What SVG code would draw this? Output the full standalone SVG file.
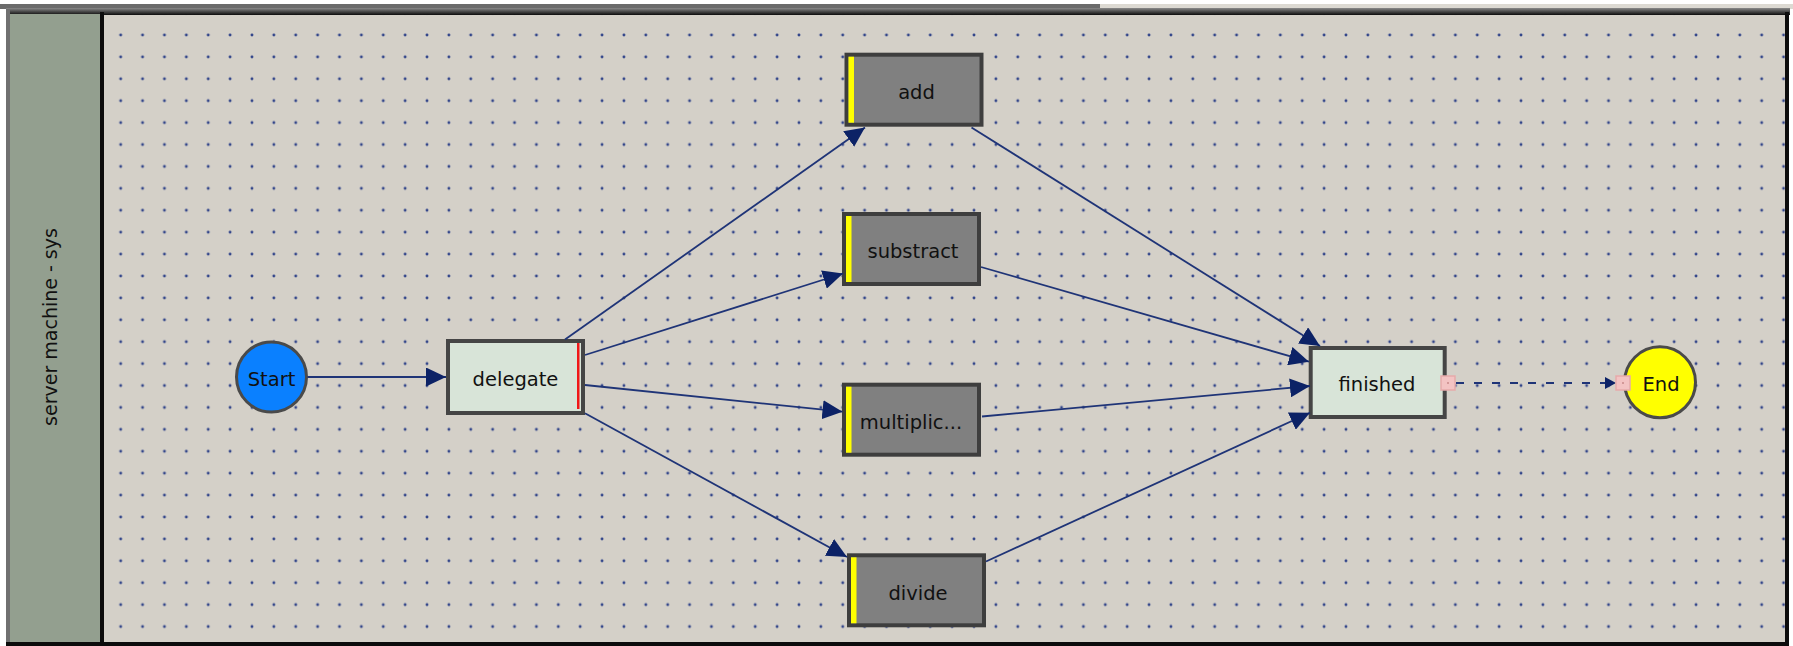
<svg xmlns="http://www.w3.org/2000/svg" width="1793" height="646" viewBox="0 0 1793 646">
<defs>
<style>
.lbl{font-family:"DejaVu Sans","Noto Sans",sans-serif;font-size:19.5px;fill:#111;text-anchor:middle}
.task{fill:#808080;stroke:#3e3e3e;stroke-width:4}
.act{fill:#d8e4d8;stroke:#454545;stroke-width:4}
.bar{fill:#ffff00}
.conn{stroke:#1f3477;stroke-width:1.8;fill:none}
.port{fill:#f3c3c3;stroke:#e6aaaa;stroke-width:1.5}
</style>
<pattern id="grid" patternUnits="userSpaceOnUse" x="109.76" y="24.05" width="21.88" height="21.91">
<circle cx="10.94" cy="10.955" r="1.45" fill="#32458a"/>
</pattern>
<linearGradient id="band" x1="0" y1="0" x2="0" y2="1">
<stop offset="0" stop-color="#8a8a8a"/>
<stop offset="0.5" stop-color="#4a4a4a"/>
<stop offset="1" stop-color="#0c0c0c"/>
</linearGradient>
<marker id="arr" markerUnits="userSpaceOnUse" markerWidth="20" markerHeight="19" refX="20" refY="9.5" orient="auto">
<path d="M0,0 L20,9.5 L0,19 Z" fill="#0c2266"/>
</marker>
<marker id="arrs" markerUnits="userSpaceOnUse" markerWidth="11" markerHeight="12" refX="11" refY="6" orient="auto">
<path d="M0,0 L11,6 L0,12 Z" fill="#0c2266"/>
</marker>
</defs>
<rect x="0" y="0" width="1793" height="646" fill="#ffffff"/>
<g id="frame">
<rect x="0" y="4" width="1100" height="5" fill="#6b6b6b"/>
<rect x="1100" y="4" width="693" height="5" fill="#dcd9d2"/>
<rect x="6" y="8" width="1784" height="7" fill="url(#band)"/>
<rect x="6" y="9" width="4" height="637" fill="#707070"/>
<rect x="10" y="14" width="90" height="628" fill="#939f8f"/>
<rect x="100" y="12" width="4" height="632" fill="#0c0c0c"/>
<rect x="104" y="15" width="1682" height="627" fill="#d4d0c8"/>
<rect x="104" y="15" width="1682" height="627" fill="url(#grid)"/>
<rect x="1785" y="12" width="4" height="634" fill="#0c0c0c"/>
<rect x="6" y="642" width="1783" height="4" fill="#0c0c0c"/>
<text class="lbl" style="font-size:19px" transform="translate(57,327) rotate(-90)" x="0" y="0">server machine - sys</text>
</g>
<g id="node-start">
<circle cx="271.5" cy="377" r="35" fill="#0a80ff" stroke="#4a4a4a" stroke-width="3"/>
<text class="lbl" x="271.5" y="386">Start</text>
</g>
<g id="node-delegate">
<rect class="act" x="448" y="341" width="135" height="72"/>
<rect x="577" y="343" width="2.5" height="66" fill="#f01818"/>
<text class="lbl" x="515.5" y="386">delegate</text>
</g>
<g id="node-add">
<rect class="task" x="846.5" y="54.7" width="135" height="70"/>
<rect class="bar" x="848.5" y="56.7" width="5.5" height="66"/>
<text class="lbl" x="916.5" y="99">add</text>
</g>
<g id="node-substract">
<rect class="task" x="844" y="214" width="135" height="70"/>
<rect class="bar" x="846" y="216" width="5.5" height="66"/>
<text class="lbl" x="913" y="257.5">substract</text>
</g>
<g id="node-multiplic">
<rect class="task" x="844" y="384.7" width="135" height="70"/>
<rect class="bar" x="846" y="386.7" width="5.5" height="66"/>
<text class="lbl" x="911" y="428.5">multiplic...</text>
</g>
<g id="node-divide">
<rect class="task" x="849" y="555.3" width="135" height="70"/>
<rect class="bar" x="851" y="557.3" width="5.5" height="66"/>
<text class="lbl" x="918" y="600">divide</text>
</g>
<g id="node-finished">
<rect class="act" x="1310.7" y="348" width="134" height="69"/>
<text class="lbl" x="1377" y="390.5">finished</text>
</g>
<g id="node-end">
<circle cx="1660" cy="382.3" r="35.5" fill="#ffff00" stroke="#4a4a4a" stroke-width="3"/>
<text class="lbl" x="1661" y="390.5">End</text>
</g>
<g id="connectors">
<line class="conn" x1="307.5" y1="377" x2="446" y2="377" marker-end="url(#arr)"/>
<line class="conn" x1="565" y1="339.5" x2="865" y2="127.5" marker-end="url(#arr)"/>
<line class="conn" x1="585" y1="355" x2="843" y2="273.5" marker-end="url(#arr)"/>
<line class="conn" x1="585" y1="385" x2="842.5" y2="411.7" marker-end="url(#arr)"/>
<line class="conn" x1="585" y1="413.3" x2="847" y2="557" marker-end="url(#arr)"/>
<line class="conn" x1="971.5" y1="127.5" x2="1320" y2="346" marker-end="url(#arr)"/>
<line class="conn" x1="981" y1="267" x2="1309" y2="361.7" marker-end="url(#arr)"/>
<line class="conn" x1="982" y1="416.5" x2="1310" y2="386" marker-end="url(#arr)"/>
<line class="conn" x1="986" y1="561.5" x2="1310" y2="412.7" marker-end="url(#arr)"/>
<line class="conn" x1="1456" y1="383" x2="1616" y2="383" stroke-dasharray="8 10" marker-end="url(#arrs)"/>
<rect class="port" x="1441" y="376" width="14" height="14"/>
<circle cx="1448" cy="383" r="1" fill="#c98a8a"/>
<rect class="port" x="1616" y="376" width="14" height="14"/>
<circle cx="1623" cy="383" r="1" fill="#c98a8a"/>
</g>
</svg>
